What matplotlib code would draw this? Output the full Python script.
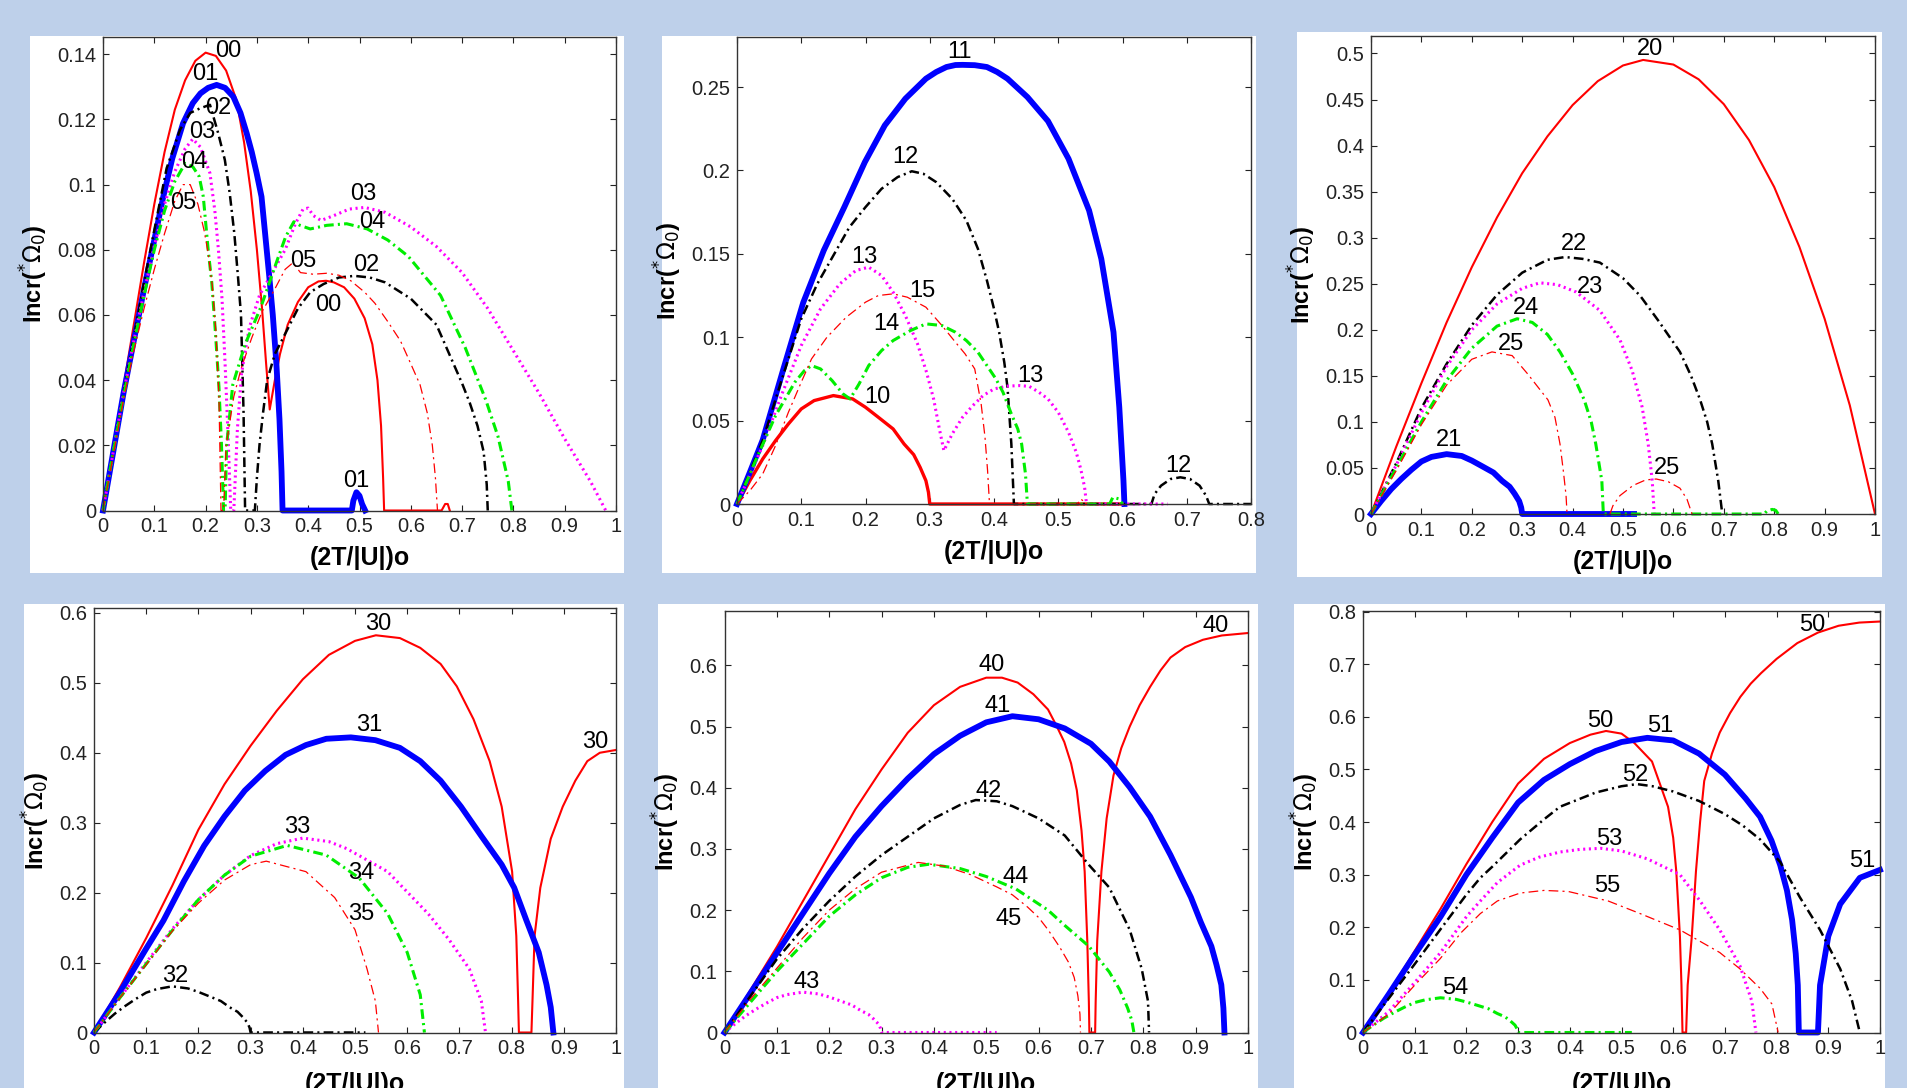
import matplotlib
matplotlib.use('Agg')
import matplotlib.pyplot as plt
from matplotlib.ticker import MultipleLocator, FuncFormatter

plt.rcParams['lines.scale_dashes'] = False
plt.rcParams['mathtext.fontset'] = 'dejavusans'

W, H = 1907, 1088
BG = '#BED0EA'

# ---------------- panel 1 (modes 0x) ----------------
x00 = [0, 0.02, 0.04, 0.06, 0.08, 0.1, 0.12, 0.14, 0.16, 0.18, 0.2, 0.22, 0.24, 0.26, 0.275, 0.288,
       0.3, 0.31, 0.318, 0.325, 0.335, 0.345, 0.36, 0.38, 0.4, 0.42, 0.435, 0.45, 0.47, 0.49,
       0.51, 0.525, 0.535, 0.542, 0.546, 0.548, 0.66, 0.667, 0.672, 0.676]
y00 = [0, 0.019, 0.038, 0.057, 0.076, 0.094, 0.11, 0.123, 0.132, 0.138, 0.1405, 0.1395, 0.135, 0.126, 0.113, 0.098,
       0.08, 0.062, 0.045, 0.031, 0.04, 0.048, 0.057, 0.064, 0.0685, 0.0703, 0.0705, 0.07, 0.0685, 0.065,
       0.059, 0.051, 0.04, 0.026, 0.01, 0, 0, 0.002, 0.002, 0]
x01 = [0, 0.02, 0.04, 0.06, 0.08, 0.1, 0.1175, 0.135, 0.156, 0.175, 0.19, 0.205, 0.2215, 0.238, 0.254, 0.268,
       0.28, 0.29, 0.2995, 0.309, 0.316, 0.324, 0.331, 0.338, 0.344, 0.348, 0.35,
       0.485, 0.488, 0.494, 0.5, 0.505, 0.511]
y01 = [0, 0.018, 0.036, 0.052, 0.068, 0.083, 0.0963, 0.108, 0.1188, 0.125, 0.128, 0.1297, 0.1306, 0.1297, 0.127, 0.122,
       0.1158, 0.11, 0.1035, 0.0963, 0.085, 0.072, 0.06, 0.045, 0.028, 0.012, 0,
       0, 0.003, 0.0056, 0.0045, 0.002, 0]
x02 = [0, 0.02, 0.04, 0.06, 0.08, 0.1, 0.124, 0.15, 0.17, 0.189, 0.2085, 0.2245, 0.2375, 0.247, 0.256, 0.263,
       0.269, 0.274, 0.277, 0.296, 0.3, 0.305, 0.312, 0.32, 0.335, 0.356, 0.38, 0.404, 0.43,
       0.46, 0.49, 0.52, 0.55, 0.6, 0.65, 0.675, 0.7, 0.715, 0.73, 0.742, 0.748, 0.75]
y02 = [0, 0.018, 0.036, 0.053, 0.07, 0.086, 0.105, 0.1168, 0.122, 0.1234, 0.1245, 0.1158, 0.1076, 0.0974, 0.085, 0.072,
       0.06, 0.03, 0, 0, 0.01, 0.02, 0.03, 0.04, 0.048, 0.0545, 0.062, 0.067, 0.0695,
       0.0715, 0.072, 0.0715, 0.07, 0.065, 0.057, 0.048, 0.039, 0.033, 0.026, 0.018, 0.008, 0]
x03 = [0, 0.02, 0.04, 0.06, 0.08, 0.1, 0.12, 0.14, 0.16, 0.175, 0.19, 0.2085, 0.218, 0.225, 0.232, 0.238,
       0.244, 0.249, 0.255, 0.262, 0.27, 0.285, 0.305, 0.33, 0.355, 0.375, 0.39, 0.4, 0.41, 0.425,
       0.45, 0.48, 0.51, 0.55, 0.6, 0.65, 0.7, 0.75, 0.8, 0.85, 0.9, 0.95, 0.98]
y03 = [0, 0.018, 0.036, 0.052, 0.067, 0.081, 0.094, 0.104, 0.111, 0.114, 0.1115, 0.1035, 0.092, 0.08, 0.065, 0.045,
       0.022, 0, 0, 0.025, 0.042, 0.056, 0.066, 0.073, 0.08, 0.088, 0.0925, 0.0928, 0.0905, 0.089,
       0.0905, 0.0925, 0.093, 0.0915, 0.087, 0.081, 0.073, 0.062, 0.049, 0.036, 0.022, 0.009, 0]
x04 = [0, 0.02, 0.04, 0.06, 0.08, 0.1, 0.12, 0.14, 0.16, 0.175, 0.1875, 0.1955, 0.205, 0.212, 0.219, 0.226,
       0.231, 0.235, 0.238, 0.241, 0.253, 0.277, 0.308, 0.34, 0.356, 0.372, 0.384, 0.404, 0.436,
       0.475, 0.515, 0.555, 0.595, 0.658, 0.706, 0.746, 0.77, 0.79, 0.797]
y04 = [0, 0.018, 0.035, 0.051, 0.066, 0.08, 0.092, 0.101, 0.1065, 0.1055, 0.1025, 0.0963, 0.08, 0.07, 0.055, 0.038,
       0.02, 0, 0, 0.02, 0.0386, 0.051, 0.0625, 0.077, 0.084, 0.0886, 0.0875, 0.0864, 0.0875,
       0.088, 0.0864, 0.083, 0.078, 0.066, 0.05, 0.034, 0.0227, 0.009, 0]
x05 = [0, 0.02, 0.04, 0.06, 0.08, 0.1, 0.12, 0.14, 0.156, 0.17, 0.185, 0.197, 0.205, 0.213, 0.22, 0.226,
       0.23, 0.235, 0.24, 0.255, 0.27, 0.29, 0.31, 0.335, 0.355, 0.37, 0.385, 0.41, 0.436, 0.46,
       0.483, 0.51, 0.53, 0.555, 0.58, 0.6, 0.618, 0.632, 0.642, 0.648, 0.652]
y05 = [0, 0.017, 0.034, 0.049, 0.062, 0.074, 0.085, 0.095, 0.1, 0.1, 0.094, 0.086, 0.079, 0.069, 0.055, 0.035,
       0, 0, 0.02, 0.035, 0.044, 0.053, 0.061, 0.068, 0.074, 0.076, 0.073, 0.0725, 0.0728, 0.0722,
       0.0705, 0.067, 0.0636, 0.058, 0.052, 0.045, 0.0386, 0.03, 0.02, 0.01, 0]

# ---------------- panel 2 (modes 1x) ----------------
x10 = [0, 0.02, 0.04, 0.06, 0.08, 0.1, 0.12, 0.15, 0.18, 0.2, 0.22, 0.243, 0.26, 0.275, 0.285, 0.294, 0.298, 0.3, 0.6]
y10 = [0, 0.014, 0.027, 0.038, 0.048, 0.057, 0.062, 0.065, 0.063, 0.058, 0.052, 0.045, 0.036, 0.0296, 0.022, 0.014, 0.007, 0, 0]
x11 = [0, 0.02, 0.04, 0.072, 0.103, 0.135, 0.167, 0.199, 0.23, 0.262, 0.294, 0.31, 0.326, 0.34, 0.351, 0.37, 0.389,
       0.405, 0.421, 0.452, 0.484, 0.516, 0.548, 0.567, 0.586, 0.595, 0.6015, 0.603]
y11 = [0, 0.019, 0.0384, 0.0807, 0.1207, 0.152, 0.178, 0.205, 0.227, 0.243, 0.255, 0.259, 0.262, 0.2632, 0.2633, 0.2631, 0.262,
       0.259, 0.255, 0.244, 0.2296, 0.207, 0.176, 0.147, 0.103, 0.058, 0.014, 0]
x12 = [0, 0.02, 0.04, 0.07, 0.1, 0.125, 0.15, 0.175, 0.2, 0.225, 0.25, 0.272, 0.29, 0.31, 0.335, 0.357, 0.375, 0.389,
       0.4, 0.408, 0.416, 0.421, 0.427, 0.431, 0.645, 0.65, 0.66, 0.675, 0.69, 0.705, 0.72, 0.73, 0.735, 0.8]
y12 = [0, 0.019, 0.038, 0.075, 0.111, 0.132, 0.149, 0.166, 0.178, 0.189, 0.196, 0.1995, 0.198, 0.193, 0.183, 0.17, 0.153, 0.134,
       0.117, 0.103, 0.085, 0.07, 0.036, 0, 0, 0.006, 0.011, 0.015, 0.016, 0.015, 0.011, 0.005, 0, 0]
x13 = [0, 0.04, 0.07, 0.1, 0.13, 0.16, 0.185, 0.205, 0.225, 0.243, 0.262, 0.281, 0.295, 0.306, 0.315, 0.322, 0.335,
       0.351, 0.367, 0.383, 0.4, 0.421, 0.44, 0.455, 0.47, 0.484, 0.5, 0.516, 0.528, 0.535, 0.541, 0.544, 0.67]
y13 = [0, 0.035, 0.066, 0.095, 0.117, 0.132, 0.14, 0.142, 0.137, 0.127, 0.113, 0.096, 0.079, 0.063, 0.045, 0.032, 0.042,
       0.052, 0.059, 0.065, 0.069, 0.0707, 0.071, 0.0705, 0.067, 0.063, 0.055, 0.043, 0.031, 0.021, 0.01, 0, 0]
x14 = [0, 0.03, 0.06, 0.09, 0.105, 0.116, 0.13, 0.148, 0.165, 0.176, 0.19, 0.205, 0.225, 0.243, 0.27, 0.294, 0.319,
       0.34, 0.357, 0.375, 0.389, 0.403, 0.414, 0.427, 0.437, 0.443, 0.449, 0.452, 0.58, 0.585, 0.595, 0.6]
y14 = [0, 0.027, 0.053, 0.073, 0.08, 0.083, 0.081, 0.074, 0.066, 0.063, 0.072, 0.083, 0.092, 0.098, 0.104, 0.108, 0.107,
       0.103, 0.098, 0.091, 0.083, 0.075, 0.067, 0.054, 0.045, 0.036, 0.018, 0, 0, 0.004, 0.003, 0]
x15 = [0, 0.02, 0.04, 0.06, 0.08, 0.1, 0.116, 0.14, 0.17, 0.2, 0.22, 0.243, 0.265, 0.294, 0.319, 0.34, 0.355, 0.37,
       0.38, 0.386, 0.39, 0.393, 0.53, 0.535, 0.545]
y15 = [0, 0.008, 0.018, 0.035, 0.055, 0.073, 0.087, 0.1, 0.112, 0.121, 0.125, 0.126, 0.124, 0.118, 0.107, 0.097, 0.09, 0.081,
       0.06, 0.04, 0.02, 0, 0, 0.003, 0]

# ---------------- panel 3 (modes 2x) ----------------
x20 = [0, 0.05, 0.1, 0.15, 0.2, 0.25, 0.3, 0.35, 0.4, 0.45, 0.5, 0.54, 0.6, 0.65, 0.7, 0.75, 0.8, 0.85, 0.9,
       0.95, 1.0]
y20 = [0, 0.073, 0.142, 0.208, 0.268, 0.322, 0.37, 0.41, 0.444, 0.47, 0.487, 0.493, 0.488, 0.472, 0.445, 0.406,
       0.355, 0.29, 0.212, 0.118, 0]
x21 = [0, 0.02, 0.04, 0.06, 0.08, 0.1, 0.12, 0.15, 0.18, 0.2, 0.22, 0.243, 0.26, 0.275, 0.285, 0.294, 0.298, 0.3, 0.522]
y21 = [0, 0.014, 0.027, 0.038, 0.048, 0.057, 0.062, 0.065, 0.063, 0.058, 0.052, 0.045, 0.036, 0.0296, 0.022, 0.014, 0.007, 0, 0]
x22 = [0, 0.05, 0.1, 0.15, 0.2, 0.25, 0.3, 0.35, 0.385, 0.42, 0.454, 0.5, 0.534, 0.57, 0.613, 0.635, 0.653, 0.667,
       0.677, 0.689, 0.697]
y22 = [0, 0.055, 0.115, 0.163, 0.205, 0.238, 0.262, 0.276, 0.279, 0.277, 0.273, 0.256, 0.237, 0.21, 0.176, 0.15, 0.124, 0.1,
       0.076, 0.036, 0]
x23 = [0, 0.05, 0.1, 0.15, 0.2, 0.25, 0.3, 0.335, 0.37, 0.407, 0.454, 0.494, 0.518, 0.538, 0.55, 0.558, 0.562]
y23 = [0, 0.053, 0.11, 0.16, 0.2, 0.228, 0.245, 0.251, 0.249, 0.241, 0.221, 0.189, 0.156, 0.116, 0.076, 0.036, 0]
x24 = [0, 0.05, 0.1, 0.15, 0.2, 0.25, 0.29, 0.32, 0.35, 0.375, 0.4, 0.423, 0.437, 0.446, 0.458, 0.461,
       0.78, 0.785, 0.796, 0.803, 0.808]
y24 = [0, 0.05, 0.1, 0.145, 0.18, 0.204, 0.212, 0.208, 0.195, 0.176, 0.152, 0.124, 0.1, 0.076, 0.036, 0,
       0, 0.003, 0.005, 0.004, 0]
x25 = [0, 0.05, 0.1, 0.15, 0.2, 0.24, 0.28, 0.311, 0.351, 0.365, 0.375, 0.382, 0.387, 0.389]
y25 = [0, 0.047, 0.097, 0.14, 0.168, 0.176, 0.172, 0.152, 0.124, 0.105, 0.076, 0.045, 0.02, 0]
x25b = [0.474, 0.48, 0.494, 0.52, 0.545, 0.566, 0.59, 0.613, 0.627, 0.637]
y25b = [0, 0.009, 0.02, 0.031, 0.037, 0.038, 0.035, 0.028, 0.016, 0]

# ---------------- panel 4 (modes 3x) ----------------
x30 = [0, 0.05, 0.1, 0.15, 0.2, 0.25, 0.3, 0.35, 0.4, 0.45, 0.5, 0.54, 0.586, 0.625, 0.664, 0.695, 0.727, 0.758,
       0.781, 0.801, 0.809, 0.8125, 0.814, 0.838, 0.84, 0.844, 0.855, 0.875, 0.898, 0.922, 0.945, 0.969, 1.0]
y30 = [0, 0.065, 0.135, 0.21, 0.29, 0.355, 0.41, 0.46, 0.505, 0.54, 0.56, 0.568, 0.564, 0.55, 0.527, 0.495, 0.448, 0.388,
       0.323, 0.23, 0.138, 0.045, 0, 0, 0.045, 0.138, 0.207, 0.277, 0.323, 0.36, 0.388, 0.4, 0.404]
x31 = [0, 0.05, 0.1, 0.133, 0.172, 0.211, 0.25, 0.289, 0.328, 0.367, 0.406, 0.445, 0.492, 0.539, 0.586, 0.625,
       0.664, 0.703, 0.742, 0.781, 0.805, 0.828, 0.852, 0.867, 0.875, 0.88]
y31 = [0, 0.058, 0.12, 0.16, 0.216, 0.267, 0.309, 0.346, 0.374, 0.397, 0.411, 0.42, 0.422, 0.418, 0.407, 0.388,
       0.36, 0.323, 0.281, 0.24, 0.207, 0.161, 0.1145, 0.068, 0.036, 0]
x32 = [0, 0.02, 0.04, 0.06, 0.08, 0.1, 0.12, 0.15, 0.18, 0.2, 0.22, 0.243, 0.26, 0.275, 0.285, 0.294, 0.298, 0.3, 0.52]
y32 = [0, 0.014, 0.027, 0.038, 0.048, 0.057, 0.062, 0.066, 0.063, 0.058, 0.052, 0.045, 0.036, 0.0296, 0.022, 0.014, 0.007, 0, 0]
x33 = [0, 0.05, 0.1, 0.15, 0.2, 0.25, 0.3, 0.35, 0.4, 0.45, 0.484, 0.5625, 0.64, 0.68, 0.719, 0.742, 0.75]
y33 = [0, 0.05, 0.1, 0.148, 0.19, 0.225, 0.253, 0.27, 0.278, 0.273, 0.263, 0.23, 0.17, 0.133, 0.091, 0.045, 0]
x34 = [0, 0.05, 0.1, 0.15, 0.2, 0.25, 0.3, 0.37, 0.445, 0.508, 0.5625, 0.6, 0.625, 0.633]
y34 = [0, 0.05, 0.098, 0.146, 0.19, 0.225, 0.252, 0.2675, 0.2536, 0.221, 0.17, 0.1145, 0.054, 0]
x35 = [0, 0.05, 0.1, 0.15, 0.2, 0.25, 0.3, 0.33, 0.406, 0.461, 0.5, 0.523, 0.539, 0.545]
y35 = [0, 0.05, 0.097, 0.145, 0.185, 0.218, 0.24, 0.245, 0.23, 0.193, 0.147, 0.091, 0.045, 0]

# ---------------- panel 5 (modes 4x) ----------------
x40 = [0, 0.05, 0.1, 0.15, 0.2, 0.25, 0.3, 0.35, 0.4, 0.45, 0.5, 0.53, 0.56, 0.59, 0.618, 0.635, 0.649, 0.662,
       0.673, 0.682, 0.688, 0.693, 0.696, 0.697, 0.708, 0.709, 0.712, 0.72, 0.73, 0.743, 0.758, 0.774, 0.793,
       0.813, 0.833, 0.852, 0.88, 0.914, 0.95, 1.0]
y40 = [0, 0.07, 0.14, 0.215, 0.29, 0.365, 0.43, 0.49, 0.535, 0.565, 0.58, 0.58, 0.572, 0.553, 0.528, 0.5, 0.475, 0.44,
       0.396, 0.33, 0.263, 0.15, 0.05, 0, 0, 0.05, 0.15, 0.263, 0.35, 0.42, 0.465, 0.5, 0.535,
       0.565, 0.592, 0.613, 0.63, 0.642, 0.649, 0.653]
x41 = [0, 0.05, 0.1, 0.15, 0.2, 0.25, 0.3, 0.35, 0.4, 0.45, 0.5, 0.55, 0.6, 0.65, 0.7, 0.735, 0.774, 0.813, 0.852,
       0.891, 0.91, 0.93, 0.94, 0.949, 0.953, 0.955]
y41 = [0, 0.065, 0.13, 0.195, 0.26, 0.32, 0.37, 0.415, 0.455, 0.485, 0.507, 0.517, 0.512, 0.497, 0.472, 0.443, 0.401,
       0.353, 0.29, 0.221, 0.18, 0.141, 0.11, 0.078, 0.04, 0]
x42 = [0, 0.05, 0.1, 0.15, 0.2, 0.25, 0.3, 0.35, 0.4, 0.45, 0.48, 0.52, 0.55, 0.6, 0.65, 0.696, 0.735, 0.774, 0.797,
       0.809, 0.811]
y42 = [0, 0.06, 0.12, 0.17, 0.215, 0.255, 0.29, 0.32, 0.35, 0.372, 0.38, 0.378, 0.37, 0.35, 0.322, 0.274, 0.237, 0.168,
       0.104, 0.051, 0]
x43 = [0, 0.02, 0.04, 0.06, 0.08, 0.1, 0.12, 0.15, 0.18, 0.2, 0.22, 0.243, 0.26, 0.275, 0.285, 0.294, 0.298, 0.3, 0.52]
y43 = [0, 0.014, 0.027, 0.038, 0.048, 0.057, 0.062, 0.066, 0.063, 0.058, 0.052, 0.045, 0.036, 0.0296, 0.022, 0.014, 0.007, 0, 0]
x44 = [0, 0.05, 0.1, 0.15, 0.2, 0.25, 0.3, 0.35, 0.39, 0.45, 0.5, 0.556, 0.618, 0.65, 0.696, 0.735, 0.755, 0.77,
       0.778, 0.782]
y44 = [0, 0.05, 0.1, 0.145, 0.19, 0.225, 0.253, 0.27, 0.275, 0.268, 0.255, 0.235, 0.2, 0.175, 0.141, 0.099, 0.07, 0.04,
       0.02, 0]
x45 = [0, 0.05, 0.1, 0.15, 0.2, 0.25, 0.3, 0.37, 0.42, 0.47, 0.52, 0.55, 0.579, 0.6, 0.618, 0.64, 0.657, 0.668,
       0.675, 0.679, 0.68]
y45 = [0, 0.055, 0.105, 0.155, 0.2, 0.235, 0.262, 0.278, 0.272, 0.258, 0.238, 0.225, 0.205, 0.188, 0.168, 0.14, 0.115,
       0.09, 0.06, 0.03, 0]

# ---------------- panel 6 (modes 5x) ----------------
x50 = [0, 0.05, 0.1, 0.15, 0.2, 0.25, 0.3, 0.35, 0.4, 0.44, 0.47, 0.5, 0.525, 0.559, 0.59, 0.6, 0.606, 0.613, 0.616,
       0.618, 0.625, 0.628, 0.636, 0.644, 0.652, 0.66, 0.675, 0.69, 0.71, 0.73, 0.75, 0.77, 0.8, 0.84, 0.88,
       0.92, 0.96, 1.0]
y50 = [0, 0.075, 0.155, 0.235, 0.32, 0.4, 0.473, 0.52, 0.55, 0.566, 0.573, 0.568, 0.55, 0.515, 0.429, 0.37, 0.306, 0.183,
       0.09, 0, 0, 0.09, 0.183, 0.306, 0.4, 0.478, 0.53, 0.57, 0.607, 0.638, 0.663, 0.683, 0.71, 0.74, 0.76,
       0.773, 0.779, 0.781]
x51 = [0, 0.05, 0.1, 0.15, 0.2, 0.25, 0.3, 0.35, 0.4, 0.45, 0.5, 0.55, 0.6, 0.65, 0.7, 0.74, 0.768, 0.79, 0.807,
       0.82, 0.83, 0.837, 0.841, 0.843, 0.88, 0.884, 0.9, 0.923, 0.961, 1.0]
y51 = [0, 0.073, 0.148, 0.22, 0.3, 0.37, 0.437, 0.48, 0.51, 0.535, 0.552, 0.56, 0.555, 0.53, 0.49, 0.445, 0.41, 0.365,
       0.318, 0.27, 0.214, 0.15, 0.09, 0, 0, 0.09, 0.183, 0.244, 0.294, 0.309]
x52 = [0, 0.05, 0.1, 0.149, 0.2, 0.227, 0.25, 0.304, 0.35, 0.381, 0.45, 0.5, 0.53, 0.56, 0.6, 0.65, 0.7, 0.735,
       0.768, 0.807, 0.845, 0.884, 0.923, 0.946, 0.961]
y52 = [0, 0.065, 0.13, 0.195, 0.262, 0.294, 0.315, 0.367, 0.405, 0.429, 0.456, 0.468, 0.472, 0.468, 0.458, 0.44, 0.415,
       0.393, 0.367, 0.324, 0.257, 0.195, 0.121, 0.06, 0]
x53 = [0, 0.05, 0.1, 0.15, 0.2, 0.227, 0.26, 0.304, 0.34, 0.381, 0.42, 0.46, 0.5, 0.55, 0.613, 0.652, 0.69, 0.729,
       0.752, 0.76]
y53 = [0, 0.04, 0.095, 0.152, 0.22, 0.25, 0.285, 0.318, 0.333, 0.343, 0.348, 0.35, 0.345, 0.33, 0.3, 0.25, 0.195, 0.127,
       0.06, 0]
x54 = [0, 0.02, 0.04, 0.06, 0.08, 0.1, 0.12, 0.15, 0.18, 0.2, 0.22, 0.243, 0.26, 0.275, 0.285, 0.294, 0.298, 0.3, 0.52]
y54 = [0, 0.014, 0.027, 0.038, 0.048, 0.057, 0.062, 0.066, 0.063, 0.058, 0.052, 0.045, 0.036, 0.0296, 0.022, 0.014, 0.007, 0, 0]
x55 = [0, 0.05, 0.1, 0.149, 0.19, 0.227, 0.26, 0.304, 0.35, 0.397, 0.474, 0.536, 0.613, 0.69, 0.729, 0.768, 0.791, 0.803]
y55 = [0, 0.035, 0.09, 0.14, 0.19, 0.226, 0.25, 0.265, 0.27, 0.268, 0.25, 0.226, 0.195, 0.152, 0.121, 0.084, 0.054, 0]

# curve annotations (text, x, y)
labels1 = [('00', 0.245, 0.1409), ('01', 0.2, 0.134), ('02', 0.225, 0.1236), ('03', 0.193, 0.116),
           ('04', 0.177, 0.107), ('05', 0.157, 0.0945), ('03', 0.507, 0.097), ('04', 0.525, 0.0886),
           ('05', 0.39, 0.0767), ('02', 0.514, 0.0753), ('00', 0.44, 0.063), ('01', 0.493, 0.0089)]
labels2 = [('11', 0.346, 0.271), ('12', 0.262, 0.208), ('13', 0.199, 0.148), ('15', 0.289, 0.128),
           ('14', 0.232, 0.108), ('13', 0.456, 0.077), ('10', 0.218, 0.064), ('12', 0.687, 0.023)]
labels3 = [('20', 0.554, 0.505), ('22', 0.403, 0.293), ('23', 0.434, 0.247), ('24', 0.307, 0.224),
           ('25', 0.278, 0.185), ('21', 0.155, 0.08), ('25', 0.588, 0.05)]
labels4 = [('30', 0.545, 0.584), ('31', 0.527, 0.439), ('30', 0.961, 0.416), ('33', 0.39, 0.294),
           ('34', 0.512, 0.228), ('35', 0.512, 0.169), ('32', 0.156, 0.081)]
labels5 = [('40', 0.51, 0.601), ('40', 0.938, 0.665), ('41', 0.521, 0.533), ('42', 0.504, 0.395),
           ('44', 0.557, 0.254), ('45', 0.542, 0.186), ('43', 0.157, 0.082)]
labels6 = [('50', 0.869, 0.774), ('50', 0.459, 0.592), ('51', 0.575, 0.583), ('52', 0.527, 0.49),
           ('53', 0.476, 0.367), ('55', 0.472, 0.279), ('51', 0.965, 0.326), ('54', 0.178, 0.084)]

DD = (0, (7, 3, 1.5, 3))
STYLE = {
    '0': dict(color='#FF0000', lw=1.5, ls='-'),
    '1': dict(color='#0000FF', lw=4.2, ls='-'),
    '2': dict(color='black', lw=1.8, ls=DD),
    '3': dict(color='#FF00FF', lw=2.2, ls=(0, (1.5, 2.6))),
    '4': dict(color='#00EE00', lw=2.2, ls=DD),
    '5': dict(color='#FF0000', lw=0.9, ls=DD),
}

# white box (x0, y0, x1, y1) and axes box (left, top, right, bottom) in pixels from top-left
panels = [
    dict(box=(30, 36, 624, 573), ax=(103, 37, 616, 510.5), xmax=1.0, ymax=0.1453, ystep=0.02, xlo=36,
         curves=[('00', x00, y00), ('01', x01, y01), ('02', x02, y02), ('03', x03, y03),
                 ('04', x04, y04), ('05', x05, y05)], labels=labels1),
    dict(box=(662, 36, 1256, 573), ax=(737, 37, 1251, 504), xmax=0.8, ymax=0.280, ystep=0.05, xlo=36,
         curves=[('10', x10, y10), ('11', x11, y11), ('12', x12, y12), ('13', x13, y13),
                 ('14', x14, y14), ('15', x15, y15)], labels=labels2),
    dict(box=(1297, 32, 1882, 577), ax=(1371, 36, 1875, 514), xmax=1.0, ymax=0.519, ystep=0.05, xlo=36,
         curves=[('20', x20, y20), ('21', x21, y21), ('22', x22, y22), ('23', x23, y23),
                 ('24', x24, y24), ('25', x25, y25), ('25', x25b, y25b)], labels=labels3),
    dict(box=(24, 604, 624, 1100), ax=(94, 608, 616, 1032.5), xmax=1.0, ymax=0.607, ystep=0.1, xlo=39,
         curves=[('30', x30, y30), ('31', x31, y31), ('32', x32, y32), ('33', x33, y33),
                 ('34', x34, y34), ('35', x35, y35)], labels=labels4),
    dict(box=(658, 604, 1258, 1100), ax=(724.5, 611, 1248, 1032.5), xmax=1.0, ymax=0.689, ystep=0.1, xlo=39,
         curves=[('40', x40, y40), ('41', x41, y41), ('42', x42, y42), ('43', x43, y43),
                 ('44', x44, y44), ('45', x45, y45)], labels=labels5),
    dict(box=(1294, 604, 1885, 1100), ax=(1363, 611, 1880, 1032.5), xmax=1.0, ymax=0.801, ystep=0.1, xlo=39,
         curves=[('50', x50, y50), ('51', x51, y51), ('52', x52, y52), ('53', x53, y53),
                 ('54', x54, y54), ('55', x55, y55)], labels=labels6),
]

TICKFONT = ['Liberation Sans Narrow', 'Liberation Sans', 'DejaVu Sans']
fmt = FuncFormatter(lambda v, p: '%g' % round(v, 4))

fig = plt.figure(figsize=(W / 100, H / 100), dpi=100, facecolor=BG)

for p in panels:
    # white card behind each plot
    bx0, by0, bx1, by1 = p['box']
    card = fig.add_axes([bx0 / W, 1 - by1 / H, (bx1 - bx0) / W, (by1 - by0) / H], zorder=0)
    card.set_facecolor('white')
    card.set_xticks([])
    card.set_yticks([])
    for s in card.spines.values():
        s.set_visible(False)

    l, t, r, b = p['ax']
    ax = fig.add_axes([l / W, 1 - b / H, (r - l) / W, (b - t) / H], zorder=1)
    ax.set_facecolor('white')
    for key, xs, ys in p['curves']:
        st = STYLE[key[1]]
        lw = 2.4 if key == '10' else st['lw']
        ax.plot(xs, ys, color=st['color'], lw=lw, ls=st['ls'], clip_on=False,
                solid_joinstyle='round', dash_joinstyle='round')
    for txt, tx, ty in p['labels']:
        ax.text(tx, ty, txt, fontsize=17, family=['Liberation Sans', 'DejaVu Sans'],
                ha='center', va='center', color='black', zorder=5)
    ax.set_xlim(0, p['xmax'])
    ax.set_ylim(0, p['ymax'])
    ax.xaxis.set_major_locator(MultipleLocator(0.1))
    ax.yaxis.set_major_locator(MultipleLocator(p['ystep']))
    ax.xaxis.set_major_formatter(fmt)
    ax.yaxis.set_major_formatter(fmt)
    ax.tick_params(direction='in', top=True, right=True, length=4, width=0.8, pad=5,
                   labelsize=14.5, colors='#222222')
    for lab in ax.get_xticklabels() + ax.get_yticklabels():
        lab.set_family(TICKFONT)
    for s in ax.spines.values():
        s.set_linewidth(1.0)
        s.set_color('#333333')
    wpx, hpx = r - l, b - t
    ax.set_xlabel('(2T/|U|)o', fontsize=18, fontweight='bold', family=['Liberation Sans', 'DejaVu Sans'])
    ax.xaxis.set_label_coords(0.5, -p['xlo'] / hpx)
    ax.set_ylabel(r'Incr($^{*}\Omega_0$)', fontsize=17, fontweight='bold',
                  family=['Liberation Sans', 'DejaVu Sans'])
    off = 53 if t < 300 else 42
    ax.yaxis.set_label_coords(-off / wpx, 0.5)

fig.savefig('out.png', dpi=100, facecolor=BG)
